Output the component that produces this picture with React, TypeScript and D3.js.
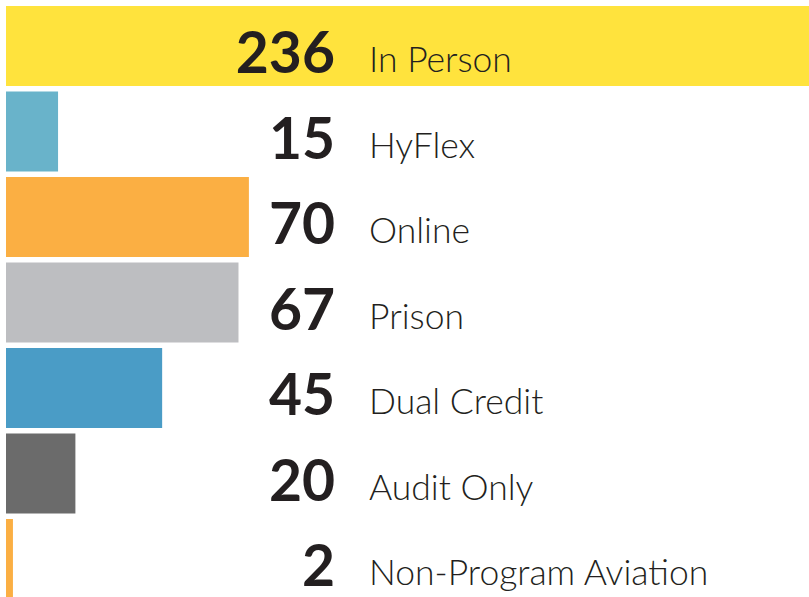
import React from "react";
import * as d3 from "d3";

const categories = ["In Person", "HyFlex", "Online", "Prison", "Dual Credit", "Audit Only", "Non-Program Aviation"];
const values = [236, 15, 70, 67, 45, 20, 2];
const colors = ["#FFE33D", "#69B3CA", "#FBAF43", "#BDBEC1", "#4A9CC6", "#6B6B6B", "#FBAF43"];

const W = 809;
const H = 597;

export default function App() {
  const x = d3.scaleLinear().domain([0, 236]).range([6, 6 + 236 * 3.47]);
  const step = 85.5;
  const pad = 5.5 / step;
  const y = d3
    .scaleBand<string>()
    .domain(categories)
    .range([6, 6 + step * (categories.length - pad)])
    .paddingInner(pad)
    .paddingOuter(0);
  return (
    <svg width={W} height={H} style={{ position: "fixed", left: 0, top: 0 }}>
      <rect width={W} height={H} fill="#fff" />
      {categories.map((c, i) => {
        const y0 = y(c)!;
        const cy = y0 + y.bandwidth() / 2;
        return (
          <g key={c}>
            <rect x={x(0)} y={y0} width={Math.max(0, x(values[i]) - x(0))} height={y.bandwidth()} fill={colors[i]} />
            <text x={335} y={cy + 27} textAnchor="end" fontFamily="Lato" fontWeight={700} fontSize={57} fill="#231F20">
              {values[i]}
            </text>
            <text x={369} y={cy + 26} fontFamily="Lato" fontWeight={300} fontSize={35.5} fill="#231F20">
              {c}
            </text>
          </g>
        );
      })}
    </svg>
  );
}
